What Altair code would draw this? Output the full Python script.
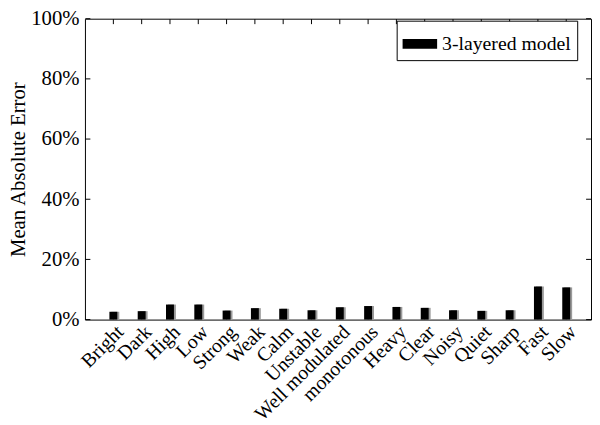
import altair as alt
import pandas as pd

categories = ["Bright", "Dark", "High", "Low", "Strong", "Weak", "Calm", "Unstable",
              "Well modulated", "monotonous", "Heavy", "Clear", "Noisy", "Quiet",
              "Sharp", "Fast", "Slow"]
mae = [2.6, 2.8, 5.0, 5.0, 3.0, 3.8, 3.6, 3.1, 4.1, 4.5, 4.2, 3.9, 3.1, 2.9, 3.1, 11.0, 10.7]
series_name = "3-layered model"
y_ticks = [0, 20, 40, 60, 80, 100]

df = pd.DataFrame({"cat": categories, "mae": mae, "series": series_name})
tick_df = pd.DataFrame({"v": y_ticks})

W, H = 513, 305
FONT = "Liberation Serif"
FS = 21
TL = 5  # inward tick length
YTITLE = "Mean Absolute Error"

xscale = alt.Scale(domain=categories, paddingInner=0.72, paddingOuter=0.8, align=0.54)
yscale = alt.Scale(domain=[0, 100], nice=False)

xaxis = alt.Axis(orient="bottom", labelAngle=-45, labelFont=FONT, labelFontSize=20,
                 labelColor="black", domain=False, grid=False, ticks=False,
                 labelPadding=2)
yaxis = alt.Axis(orient="left", values=y_ticks, labelExpr="datum.value + '%'",
                 labelFont=FONT, labelFontSize=FS, labelColor="black",
                 domain=False, grid=False, ticks=False, labelPadding=6,
                 titleFont=FONT, titleFontSize=FS, titleFontWeight="normal",
                 titleColor="black", titleX=-61, titleBaseline="alphabetic")


def xenc(field="cat:N"):
    return alt.X(field, scale=xscale, sort=categories, title=None, axis=xaxis)


def yenc(field):
    return alt.Y(field, scale=yscale, title=YTITLE, axis=yaxis)


# inward ticks on all four sides of the frame
yt_left = alt.Chart(tick_df).mark_rule(color="black", strokeWidth=1).encode(
    y=yenc("v:Q"), x=alt.value(0.5), x2=alt.value(TL + 0.5))
yt_right = alt.Chart(tick_df).mark_rule(color="black", strokeWidth=1).encode(
    y=yenc("v:Q"), x=alt.value(W - TL), x2=alt.value(W))
xt_top = alt.Chart(df).mark_rule(color="black", strokeWidth=1).encode(
    x=xenc(), y=alt.value(0.5), y2=alt.value(TL + 0.5))
xt_bottom = alt.Chart(df).mark_rule(color="black", strokeWidth=1).encode(
    x=xenc(), y=alt.value(H - TL), y2=alt.value(H))

shadow = alt.Chart(df).mark_bar(color="#9a9a9a", xOffset=2).encode(
    x=xenc(), y=yenc("mae:Q"))

main = alt.Chart(df).mark_bar(color="black").encode(
    x=xenc(),
    y=yenc("mae:Q"),
    color=alt.Color("series:N", scale=alt.Scale(range=["black"]),
                    legend=alt.Legend(title=None, orient="none", legendX=316, legendY=2,
                                      strokeColor="black", fillColor="white", padding=6,
                                      cornerRadius=0,
                                      symbolType="M-1,-0.286H1V0.286H-1Z", symbolSize=1225,
                                      symbolStrokeWidth=0, labelOffset=5,
                                      labelFont=FONT, labelFontSize=20, labelColor="black")),
)

chart = alt.layer(yt_left, yt_right, xt_top, xt_bottom, shadow, main).properties(
    width=W, height=H,
    background="white",
    autosize=alt.AutoSizeParams(type="none"),
    padding={"left": 78, "top": 8, "right": 1, "bottom": 104},
).configure_view(stroke="black", strokeWidth=1)

chart.save("out.html", embed_options={"renderer": "svg", "actions": False})
